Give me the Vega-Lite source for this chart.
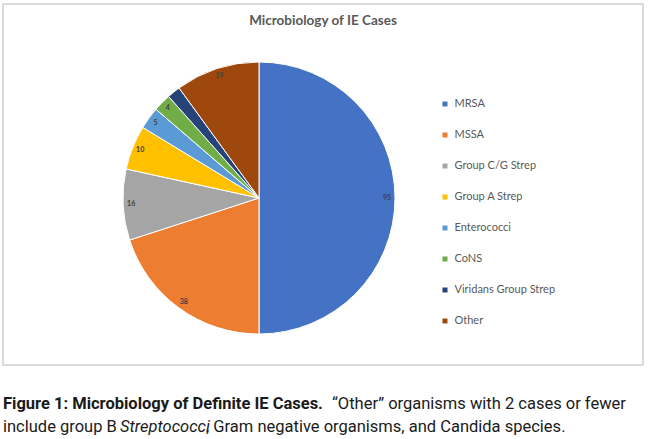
{
  "$schema": "https://vega.github.io/schema/vega-lite/v6.json",
  "autosize": "none",
  "width": 640,
  "height": 361,
  "padding": {"left": 3, "top": 4, "right": 7, "bottom": 74},
  "background": "white",
  "view": {"stroke": "#d0d0d0", "strokeWidth": 1.5, "fill": "white"},
  "config": {
    "font": "Lato"
  },
  "title": {
    "text": "Microbiology of IE Cases",
    "anchor": "middle",
    "frame": "group",
    "font": "Lato",
    "fontSize": 13.5,
    "fontWeight": "bold",
    "color": "#595959",
    "baseline": "alphabetic",
    "offset": 0,
    "dy": 34
  },
  "layer": [
    {
      "data": {
        "values": [
          {"organism": "MRSA", "cases": 95, "rank": 1},
          {"organism": "MSSA", "cases": 38, "rank": 2},
          {"organism": "Group C/G Strep", "cases": 16, "rank": 3},
          {"organism": "Group A Strep", "cases": 10, "rank": 4},
          {"organism": "Enterococci", "cases": 5, "rank": 5},
          {"organism": "CoNS", "cases": 4, "rank": 6},
          {"organism": "Viridans Group Strep", "cases": 3, "rank": 7},
          {"organism": "Other", "cases": 19, "rank": 8}
        ]
      },
      "encoding": {
        "theta": {"field": "cases", "type": "quantitative", "stack": true},
        "order": {"field": "rank", "type": "quantitative"},
        "color": {
          "field": "organism",
          "type": "nominal",
          "scale": {
            "domain": ["MRSA", "MSSA", "Group C/G Strep", "Group A Strep", "Enterococci", "CoNS", "Viridans Group Strep", "Other"],
            "range": ["#4472C4", "#ED7D31", "#A5A5A5", "#FFC000", "#5B9BD5", "#70AD47", "#264478", "#9E480E"]
          },
          "legend": {
            "orient": "none",
            "legendX": 436.5,
            "legendY": 94.5,
            "title": null,
            "padding": 0,
            "symbolType": "square",
            "symbolSize": 25,
            "symbolStrokeWidth": 0,
            "labelFont": "Lato",
            "labelFontSize": 11,
            "labelColor": "#595959",
            "labelOffset": 4,
            "rowPadding": 19
          }
        }
      },
      "layer": [
        {
          "mark": {"type": "arc", "x": 256, "y": 194, "outerRadius": 136, "stroke": "white", "strokeWidth": 1}
        },
        {
          "mark": {"type": "text", "x": 256, "y": 194, "radius": 128, "fontSize": 7, "font": "Lato", "fontWeight": "bold", "fill": "#404040"},
          "encoding": {
            "text": {
              "condition": {"test": "datum.organism === 'Viridans Group Strep'", "value": ""},
              "field": "cases",
              "type": "quantitative"
            },
            "color": {"value": "#404040"}
          }
        }
      ]
    },
    {
      "data": {
        "values": [
          {"line": 1, "segment": "Figure 1: Microbiology of Definite IE Cases."}
        ]
      },
      "mark": {"type": "text", "x": 0, "y": 405, "align": "left", "baseline": "alphabetic", "font": "Roboto", "fontSize": 16.5, "fontWeight": "bold", "fill": "#1a1a1a"},
      "encoding": {"text": {"field": "segment"}}
    },
    {
      "data": {
        "values": [
          {"line": 1, "segment": "“Other” organisms with 2 cases or fewer"}
        ]
      },
      "mark": {"type": "text", "x": 329, "y": 405, "align": "left", "baseline": "alphabetic", "font": "Roboto", "fontSize": 16.5, "fill": "#1a1a1a"},
      "encoding": {"text": {"field": "segment"}}
    },
    {
      "data": {
        "values": [
          {"line": 2, "segment": "include group B"}
        ]
      },
      "mark": {"type": "text", "x": 0, "y": 428, "align": "left", "baseline": "alphabetic", "font": "Roboto", "fontSize": 16.5, "fill": "#1a1a1a"},
      "encoding": {"text": {"field": "segment"}}
    },
    {
      "data": {
        "values": [
          {"line": 2, "segment": "Streptococci"}
        ]
      },
      "mark": {"type": "text", "x": 117, "y": 428, "align": "left", "baseline": "alphabetic", "font": "Roboto", "fontSize": 16.5, "fontStyle": "italic", "fill": "#1a1a1a"},
      "encoding": {"text": {"field": "segment"}}
    },
    {
      "data": {
        "values": [
          {"line": 2, "segment": ", Gram negative organisms, and Candida species."}
        ]
      },
      "mark": {"type": "text", "x": 203, "y": 428, "align": "left", "baseline": "alphabetic", "font": "Roboto", "fontSize": 16.5, "fill": "#1a1a1a"},
      "encoding": {"text": {"field": "segment"}}
    }
  ]
}
